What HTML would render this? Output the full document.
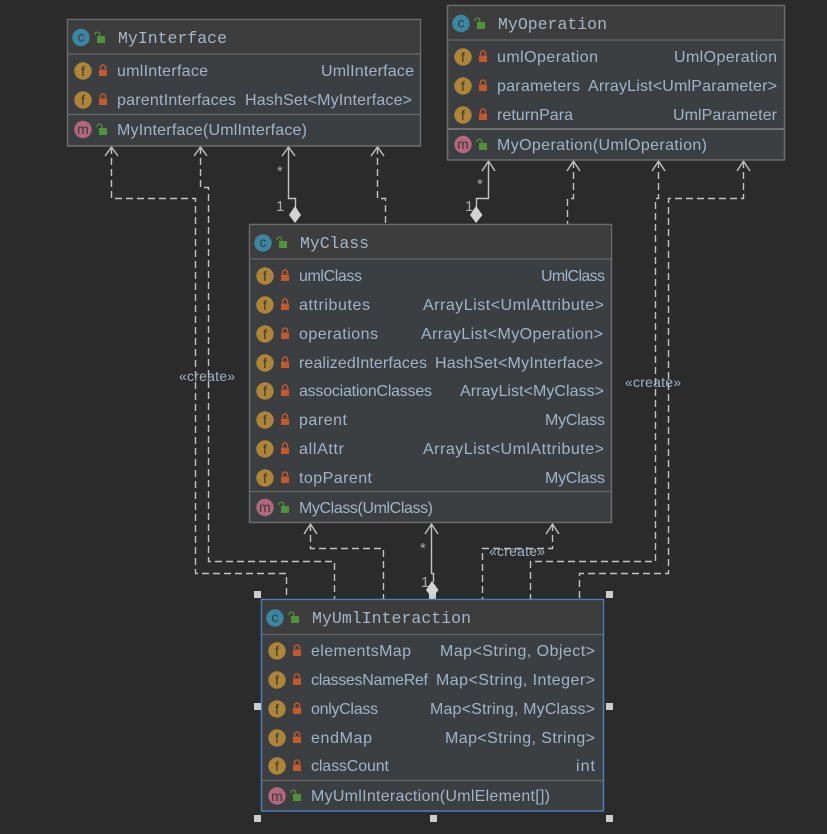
<!DOCTYPE html>
<html><head><meta charset="utf-8">
<style>
html,body{margin:0;padding:0;background:#2b2b2b;width:827px;height:834px;overflow:hidden}
svg{display:block}
.t{font:16px "Liberation Sans",sans-serif;fill:#9fb4ca}
.h{font:16.5px "Liberation Mono",monospace;fill:#a4b6c8}
.l{font:14px "Liberation Sans",sans-serif;fill:#9fb4ca}
.n{font:15px "Liberation Sans",sans-serif;fill:#a9a9a9}
.ic{font:14px "Liberation Sans",sans-serif;fill:#3a3a3a;text-anchor:middle}
.ln{fill:none;stroke:#c2c2c2;stroke-width:1.4}
.d{stroke-dasharray:7 4}
.b{fill:#3c3f41;stroke:#6b6b6b;stroke-width:1.5}
.hd{fill:#3d3d3d}
.dv{stroke:#666;stroke-width:1.3}
.sq{fill:#ccc}
.cc{fill:#3a87a3}.ff{fill:#ae8537}.mm{fill:#b3677f}
</style></head><body>
<svg width="827" height="834" viewBox="0 0 827 834" xmlns="http://www.w3.org/2000/svg">
<defs>
<g id="pv"><rect x="-4" y="-1.500" width="8" height="6.500" rx="0.5" fill="#c4592a"/><path d="M-2.500-2v-1.500a2.500 2.500 0 0 1 5 0V-2" fill="none" stroke="#c4592a" stroke-width="1.500"/></g>
<g id="pb"><rect x="-3" y="-2" width="8" height="7" fill="#4f9238"/><path d="M-5-3v-.5a2.400 2.400 0 0 1 4.800 0V-2" fill="none" stroke="#4f9238" stroke-width="1.300"/></g>
</defs>

<!-- connectors -->
<g transform="translate(.5 0)">
<path class="ln d" d="M111 147V198.500H195V573.500H286V599"/>
<path class="ln d" d="M200 147V187.500H208V561.500H334V599"/>
<path class="ln" d="M288 147V198.500H295V207"/>
<path class="ln d" d="M377 147V198.500H385V224"/>
<path class="ln" d="M488 161V198.500H476V207"/>
<path class="ln d" d="M573 161V198.500H567V224"/>
<path class="ln d" d="M658 161V198.500H655V561.500H530V599"/>
<path class="ln d" d="M743 161V198.500H668V573.500H579V599"/>
<path class="ln d" d="M310 524V548.500H383V599"/>
<path class="ln" d="M431 524V573.500H433V582"/>
<path class="ln d" d="M552 524V548.500H482V599"/>
<g class="ln">
<path d="M104.500 156L111 147L117.500 156"/><path d="M193.500 156L200 147L206.500 156"/><path d="M281.500 156L288 147L294.500 156"/><path d="M370.500 156L377 147L383.500 156"/>
<path d="M481.500 171L488 161L494.500 171"/><path d="M566.500 171L573 161L579.500 171"/><path d="M651.500 171L658 161L664.500 171"/><path d="M736.500 171L743 161L749.500 171"/>
<path d="M303.500 534L310 524L316.500 534"/><path d="M424.500 534L431 524L437.500 534"/><path d="M545.500 534L552 524L558.500 534"/>
</g>
</g>
<polygon points="295,206 301,215 295,223 289,215" fill="#d4d4d4"/>
<polygon points="476,206 482.500,215 476,223 470,215" fill="#d4d4d4"/>
<rect x="429" y="590" width="7" height="9" class="sq"/>
<polygon points="432,581 438.500,590 432,598 426,590" fill="#d4d4d4"/>

<text class="n" x="277" y="176">*</text><text class="n" x="276" y="211">1</text>
<text class="n" x="477" y="189">*</text><text class="n" x="465" y="211">1</text>
<text class="n" x="420" y="553">*</text><text class="n" x="421" y="587">1</text>

<text class="l" x="179" y="381" textLength="56">«create»</text>
<text class="l" x="625" y="387" textLength="56">«create»</text>
<text class="l" x="489" y="556" textLength="56">«create»</text>

<!-- MyInterface -->
<rect class="b" x="67.500" y="19.500" width="353" height="126.500"/>
<rect class="hd" x="68.300" y="20.300" width="351.500" height="33.700"/>
<path class="dv" d="M68 54H420M68 114.500H420"/>
<circle class="cc" cx="81" cy="37.500" r="8.700"/><text class="ic" x="81" y="41.500">c</text><use href="#pb" x="100" y="38"/>
<text class="h" x="118" y="43" textLength="109">MyInterface</text>
<circle class="ff" cx="83" cy="71" r="8.700"/><text class="ic" x="83" y="76">f</text><use href="#pv" x="103" y="71"/>
<text class="t" x="117" y="76" textLength="91">umlInterface</text><text class="t" x="321" y="76" textLength="93">UmlInterface</text>
<circle class="ff" cx="83" cy="100" r="8.700"/><text class="ic" x="83" y="105">f</text><use href="#pv" x="103" y="100"/>
<text class="t" x="117" y="105" textLength="119">parentInterfaces</text><text class="t" x="245" y="105" textLength="167">HashSet&lt;MyInterface&gt;</text>
<circle class="mm" cx="83" cy="129.500" r="8.700"/><text class="ic" x="83" y="134">m</text><use href="#pb" x="102" y="130"/>
<text class="t" x="117" y="135" textLength="190">MyInterface(UmlInterface)</text>

<!-- MyOperation -->
<rect class="b" x="447.500" y="5.500" width="337" height="154.500"/>
<rect class="hd" x="448.300" y="6.300" width="335.500" height="33.700"/>
<path class="dv" d="M448 40H784"/><path d="M448 129H784" stroke="#777" stroke-width="1.800"/>
<circle class="cc" cx="461" cy="23.500" r="8.700"/><text class="ic" x="461" y="27.500">c</text><use href="#pb" x="480" y="24"/>
<text class="h" x="498" y="29" textLength="109">MyOperation</text>
<circle class="ff" cx="463" cy="57" r="8.700"/><text class="ic" x="463" y="62">f</text><use href="#pv" x="483" y="57"/>
<text class="t" x="497" y="62" textLength="101">umlOperation</text><text class="t" x="674" y="62" textLength="103">UmlOperation</text>
<circle class="ff" cx="463" cy="86" r="8.700"/><text class="ic" x="463" y="91">f</text><use href="#pv" x="483" y="86"/>
<text class="t" x="497" y="91" textLength="83">parameters</text><text class="t" x="588" y="91" textLength="189">ArrayList&lt;UmlParameter&gt;</text>
<circle class="ff" cx="463" cy="115" r="8.700"/><text class="ic" x="463" y="120">f</text><use href="#pv" x="483" y="115"/>
<text class="t" x="497" y="120" textLength="76">returnPara</text><text class="t" x="673" y="120" textLength="104">UmlParameter</text>
<circle class="mm" cx="463" cy="144.500" r="8.700"/><text class="ic" x="463" y="149">m</text><use href="#pb" x="482" y="145"/>
<text class="t" x="497" y="150" textLength="210">MyOperation(UmlOperation)</text>

<!-- MyClass -->
<rect class="b" x="249.500" y="224.500" width="362" height="298"/>
<rect class="hd" x="250.300" y="225.300" width="360.500" height="33.700"/>
<path class="dv" d="M250 259H611M250 491.500H611"/>
<circle class="cc" cx="263" cy="243" r="8.700"/><text class="ic" x="263" y="247">c</text><use href="#pb" x="282" y="243"/>
<text class="h" x="300" y="248" textLength="69">MyClass</text>
<circle class="ff" cx="265" cy="276" r="8.700"/><text class="ic" x="265" y="281">f</text><use href="#pv" x="285" y="276"/>
<text class="t" x="299" y="281" textLength="63">umlClass</text><text class="t" x="541" y="281" textLength="64">UmlClass</text>
<circle class="ff" cx="265" cy="305" r="8.700"/><text class="ic" x="265" y="310">f</text><use href="#pv" x="285" y="305"/>
<text class="t" x="299" y="310" textLength="71">attributes</text><text class="t" x="423" y="310" textLength="181">ArrayList&lt;UmlAttribute&gt;</text>
<circle class="ff" cx="265" cy="334" r="8.700"/><text class="ic" x="265" y="339">f</text><use href="#pv" x="285" y="334"/>
<text class="t" x="299" y="339" textLength="79">operations</text><text class="t" x="421" y="339" textLength="182">ArrayList&lt;MyOperation&gt;</text>
<circle class="ff" cx="265" cy="363" r="8.700"/><text class="ic" x="265" y="368">f</text><use href="#pv" x="285" y="363"/>
<text class="t" x="299" y="368" textLength="128">realizedInterfaces</text><text class="t" x="435" y="368" textLength="168">HashSet&lt;MyInterface&gt;</text>
<circle class="ff" cx="265" cy="391" r="8.700"/><text class="ic" x="265" y="396">f</text><use href="#pv" x="285" y="391"/>
<text class="t" x="299" y="396" textLength="133">associationClasses</text><text class="t" x="460" y="396" textLength="144">ArrayList&lt;MyClass&gt;</text>
<circle class="ff" cx="265" cy="420" r="8.700"/><text class="ic" x="265" y="425">f</text><use href="#pv" x="285" y="420"/>
<text class="t" x="299" y="425" textLength="48">parent</text><text class="t" x="545" y="425" textLength="60">MyClass</text>
<circle class="ff" cx="265" cy="449" r="8.700"/><text class="ic" x="265" y="454">f</text><use href="#pv" x="285" y="449"/>
<text class="t" x="299" y="454" textLength="45">allAttr</text><text class="t" x="423" y="454" textLength="181">ArrayList&lt;UmlAttribute&gt;</text>
<circle class="ff" cx="265" cy="478" r="8.700"/><text class="ic" x="265" y="483">f</text><use href="#pv" x="285" y="478"/>
<text class="t" x="299" y="483" textLength="73">topParent</text><text class="t" x="545" y="483" textLength="60">MyClass</text>
<circle class="mm" cx="265" cy="507.500" r="8.700"/><text class="ic" x="265" y="512">m</text><use href="#pb" x="284" y="508"/>
<text class="t" x="299" y="513" textLength="134">MyClass(UmlClass)</text>

<!-- MyUmlInteraction -->
<rect x="261.500" y="599.500" width="342" height="211.500" fill="#3c3f41" stroke="#4d7cb8" stroke-width="1.500"/>
<rect class="hd" x="262.300" y="600.300" width="340.500" height="33.700"/>
<path class="dv" d="M262 634.500H603M262 780.500H603"/>
<circle class="cc" cx="275" cy="618" r="8.700"/><text class="ic" x="275" y="622">c</text><use href="#pb" x="294" y="618"/>
<text class="h" x="312" y="623" textLength="159">MyUmlInteraction</text>
<circle class="ff" cx="277" cy="651" r="8.700"/><text class="ic" x="277" y="656">f</text><use href="#pv" x="297" y="651"/>
<text class="t" x="311" y="656" textLength="100">elementsMap</text><text class="t" x="440" y="656" textLength="155">Map&lt;String, Object&gt;</text>
<circle class="ff" cx="277" cy="680" r="8.700"/><text class="ic" x="277" y="685">f</text><use href="#pv" x="297" y="680"/>
<text class="t" x="311" y="685" textLength="117">classesNameRef</text><text class="t" x="436" y="685" textLength="159">Map&lt;String, Integer&gt;</text>
<circle class="ff" cx="277" cy="709" r="8.700"/><text class="ic" x="277" y="714">f</text><use href="#pv" x="297" y="709"/>
<text class="t" x="311" y="714" textLength="67">onlyClass</text><text class="t" x="430" y="714" textLength="165">Map&lt;String, MyClass&gt;</text>
<circle class="ff" cx="277" cy="738" r="8.700"/><text class="ic" x="277" y="743">f</text><use href="#pv" x="297" y="738"/>
<text class="t" x="311" y="743" textLength="61">endMap</text><text class="t" x="445" y="743" textLength="150">Map&lt;String, String&gt;</text>
<circle class="ff" cx="277" cy="766" r="8.700"/><text class="ic" x="277" y="771">f</text><use href="#pv" x="297" y="766"/>
<text class="t" x="311" y="771" textLength="78">classCount</text><text class="t" x="576" y="771" textLength="19">int</text>
<circle class="mm" cx="277" cy="796" r="8.700"/><text class="ic" x="277" y="801">m</text><use href="#pb" x="296" y="796"/>
<text class="t" x="311" y="801" textLength="239">MyUmlInteraction(UmlElement[])</text>

<!-- selection handles -->
<rect class="sq" x="254" y="591" width="7" height="7"/>
<rect class="sq" x="606" y="591" width="7" height="7"/>
<rect class="sq" x="254" y="703" width="7" height="7"/>
<rect class="sq" x="606" y="703" width="7" height="7"/>
<rect class="sq" x="254" y="815" width="7" height="7"/>
<rect class="sq" x="430" y="815" width="7" height="7"/>
<rect class="sq" x="606" y="815" width="7" height="7"/>
</svg>
</body></html>
